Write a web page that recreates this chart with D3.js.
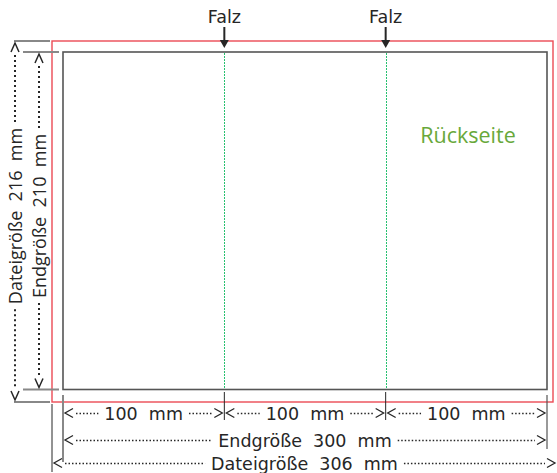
<!DOCTYPE html>
<html><head><meta charset="utf-8">
<script src="https://cdn.jsdelivr.net/npm/d3@7"></script>
<style>body{margin:0;background:#fff}svg{display:block}</style>
</head><body>
<svg id="c" width="557" height="473"></svg>
<script>
// ---- data (mm) ----
const panels = [100, 100, 100];
const finalSize = [300, 210];
const bleed = 3;
const fileSize = [306, 216];
const folds = [100, 200];
const foldLabels = ["Falz", "Falz"];
const panelLabels = ["100  mm", "100  mm", "100  mm"];
const widthLabels = ["Endgröße  300  mm", "Dateigröße  306  mm"];
const heightLabels = ["Dateigröße  216  mm", "Endgröße  210  mm"];
const sideLabel = "Rückseite";

const svg = d3.select("#c");
const x = d3.scaleLinear().domain([-bleed, 0, finalSize[0], finalSize[0] + bleed]).range([52, 63, 547, 553]);
const y = d3.scaleLinear().domain([-bleed, 0, finalSize[1], finalSize[1] + bleed]).range([41, 52, 389.5, 402]);
const px = v => Math.round(x(v)) + 0.5;

const slab = "'DejaVu Sans', sans-serif";
const sans = "'Open Sans', sans-serif";
const ink = "#262626";

// bleed (red) rect
svg.append("rect").attr("x", x(-bleed)).attr("y", y(-bleed))
  .attr("width", x(finalSize[0] + bleed) - x(-bleed)).attr("height", y(finalSize[1] + bleed) - y(-bleed))
  .attr("fill", "none").attr("stroke", "#ec4a55").attr("stroke-width", 1.4);
// final rect
svg.append("rect").attr("x", x(0)).attr("y", y(0))
  .attr("width", x(finalSize[0]) - x(0)).attr("height", y(finalSize[1]) - y(0))
  .attr("fill", "none").attr("stroke", "#555").attr("stroke-width", 1.6);

// folds
svg.selectAll(".fold").data(folds).join("line")
  .attr("x1", d => px(d)).attr("x2", d => px(d)).attr("y1", y(0) + 1).attr("y2", y(finalSize[1]) - 1)
  .attr("stroke", "#28c070").attr("stroke-width", 1).attr("stroke-dasharray", "2,1");
svg.selectAll(".flab").data(folds).join("text")
  .attr("x", d => x(d)).attr("y", 23).attr("text-anchor", "middle")
  .attr("font-family", slab).attr("font-size", 17.5).attr("fill", ink)
  .text((d, i) => foldLabels[i]);
svg.selectAll(".fshaft").data(folds).join("line")
  .attr("x1", d => x(d)).attr("x2", d => x(d)).attr("y1", 27).attr("y2", 42)
  .attr("stroke", ink).attr("stroke-width", 2);
svg.selectAll(".fhead").data(folds).join("path")
  .attr("d", d => `M${x(d) - 4.5},40 L${x(d) + 4.5},40 L${x(d)},48 Z`).attr("fill", ink);

// side label
svg.append("text").attr("x", 468).attr("y", 143).attr("text-anchor", "middle")
  .attr("font-family", sans).attr("font-size", 21.5).attr("fill", "#68a83a").text(sideLabel);

// ---- left height dimensions ----
const vdims = [
  {xc: 15, top: y(-bleed), bot: y(finalSize[1] + bleed), tx0: 14, tx1: 50, label: heightLabels[0]},
  {xc: 39, top: y(0), bot: y(finalSize[1]), tx0: 23, tx1: 59, label: heightLabels[1]}
];
vdims.forEach(d => {
  [d.top, d.bot].forEach(yy => svg.append("line").attr("x1", d.tx0).attr("x2", d.tx1).attr("y1", yy).attr("y2", yy)
    .attr("stroke", "#888").attr("stroke-width", 2));
  svg.append("path").attr("d", `M${d.xc - 4},${d.top + 11} L${d.xc},${d.top + 2} L${d.xc + 4},${d.top + 11}`)
    .attr("fill", "none").attr("stroke", ink).attr("stroke-width", 1.5);
  svg.append("path").attr("d", `M${d.xc - 4},${d.bot - 11} L${d.xc},${d.bot - 2} L${d.xc + 4},${d.bot - 11}`)
    .attr("fill", "none").attr("stroke", ink).attr("stroke-width", 1.5);
  const mid = 216;
  const t = svg.append("text").attr("transform", `translate(${d.xc + 6.5},${mid}) rotate(-90)`)
    .attr("text-anchor", "middle").attr("font-family", sans).attr("font-size", 18).attr("fill", ink)
    .style("white-space", "pre").text(d.label);
  const w = t.node().getComputedTextLength();
  svg.append("line").attr("x1", d.xc).attr("x2", d.xc).attr("y1", d.top + 14).attr("y2", mid - w / 2 - 5)
    .attr("stroke", ink).attr("stroke-width", 2).attr("stroke-dasharray", "2,3");
  svg.append("line").attr("x1", d.xc).attr("x2", d.xc).attr("y1", mid + w / 2 + 5).attr("y2", d.bot - 13)
    .attr("stroke", ink).attr("stroke-width", 2).attr("stroke-dasharray", "2,3");
});

// ---- bottom width dimensions ----
const ext = [
  {v: -bleed, y1: 404, y2: 472, c: ink, w: 1},
  {v: 0, y1: 395, y2: 462, c: "#888", w: 2},
  {v: folds[0], y1: 392, y2: 420, c: ink, w: 1},
  {v: folds[1], y1: 392, y2: 420, c: ink, w: 1},
  {v: finalSize[0], y1: 395, y2: 449, c: "#555", w: 1.2}
];
ext.forEach(e => svg.append("line").attr("x1", x(e.v)).attr("x2", x(e.v)).attr("y1", e.y1).attr("y2", e.y2)
  .attr("stroke", e.c).attr("stroke-width", e.w));

function hdim(a, b, yc, label) {
  const cx = (a + b) / 2;
  const t = svg.append("text").attr("x", cx).attr("y", yc + 6.5).attr("text-anchor", "middle")
    .attr("font-family", slab).attr("font-size", 17.5).attr("fill", ink)
    .style("white-space", "pre").text(label);
  const w = t.node().getComputedTextLength();
  svg.append("path").attr("d", `M${a + 10},${yc - 4.5} L${a + 2},${yc} L${a + 10},${yc + 4.5}`)
    .attr("fill", "none").attr("stroke", ink).attr("stroke-width", 1.3);
  svg.append("path").attr("d", `M${b - 10},${yc - 4.5} L${b - 2},${yc} L${b - 10},${yc + 4.5}`)
    .attr("fill", "none").attr("stroke", ink).attr("stroke-width", 1.3);
  svg.append("line").attr("x1", a + 13).attr("x2", cx - w / 2 - 6).attr("y1", yc + 0.5).attr("y2", yc + 0.5)
    .attr("stroke", ink).attr("stroke-width", 1.5).attr("stroke-dasharray", "1.5,2");
  svg.append("line").attr("x1", cx + w / 2 + 6).attr("x2", b - 12).attr("y1", yc + 0.5).attr("y2", yc + 0.5)
    .attr("stroke", ink).attr("stroke-width", 1.5).attr("stroke-dasharray", "1.5,2");
}
let start = 0;
panels.forEach((p, i) => { hdim(x(start), x(start + p), 413, panelLabels[i]); start += p; });
hdim(x(0), x(finalSize[0]), 440, widthLabels[0]);
hdim(x(-bleed), x(finalSize[0] + bleed) + 4, 463, widthLabels[1]);
</script>
</body></html>
